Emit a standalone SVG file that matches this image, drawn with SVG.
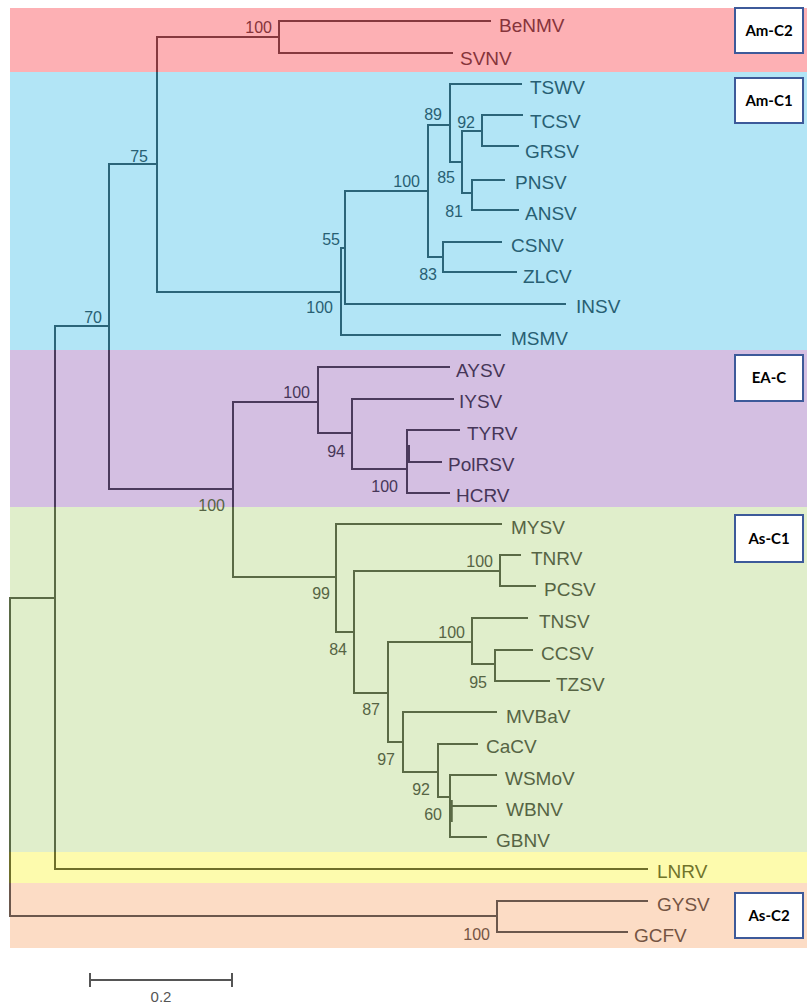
<svg xmlns="http://www.w3.org/2000/svg" xmlns:xlink="http://www.w3.org/1999/xlink" width="807" height="1004" viewBox="0 0 807 1004">
<style>
.leaf{font-family:"Liberation Sans",Arial,sans-serif;font-size:19px}
.bs{font-family:"Liberation Sans",Arial,sans-serif;font-size:16px;text-anchor:end}
.box rect{fill:#fff;stroke:#3d5a9a;stroke-width:2}
.box text{font-family:Lato,"Liberation Sans",sans-serif;font-size:15px;font-weight:bold;fill:#000;text-anchor:middle}
.red{fill:#86343b}.blue{fill:#285f73}.purple{fill:#463658}.green{fill:#566444}.yellow{fill:#70732b}.orange{fill:#745443}
</style>
<defs>
<clipPath id="cRed"><rect x="0" y="0" width="807" height="72"/></clipPath>
<clipPath id="cBlue"><rect x="0" y="72" width="807" height="278"/></clipPath>
<clipPath id="cPurple"><rect x="0" y="350" width="807" height="157"/></clipPath>
<clipPath id="cGreen"><rect x="0" y="507" width="807" height="345"/></clipPath>
<clipPath id="cYellow"><rect x="0" y="852" width="807" height="31"/></clipPath>
<clipPath id="cOrange"><rect x="0" y="883" width="807" height="65"/></clipPath>
<g id="tree">
<path d="M55 598 H10 V916 H497"/>
<path d="M109 326 H55 V869 H648"/>
<path d="M157 164 H109 V489 H233"/>
<path d="M279 37 H157 V292 H341"/>
<path d="M491 21 H279 V53 H453"/>
<path d="M345 248 H341 V335 H501"/>
<path d="M428 191 H345 V304 H566"/>
<path d="M450 125 H428 V257 H443"/>
<path d="M522 84 H450 V162 H462"/>
<path d="M482 131 H462 V193 H472"/>
<path d="M523 115 H482 V146 H519"/>
<path d="M505 180 H472 V210 H519"/>
<path d="M502 242 H443 V272 H517"/>
<path d="M318 402 H233 V577 H336"/>
<path d="M450 367 H318 V433 H352"/>
<path d="M454 399 H352 V469 H407"/>
<path d="M460 430 H407 V493 H450"/>
<path d="M407 446 H409 V462 H442"/>
<path d="M502 524 H336 V632 H354"/>
<path d="M500 571 H354 V693 H388"/>
<path d="M521 555 H500 V586 H536"/>
<path d="M472 642 H388 V742 H403"/>
<path d="M528 618 H472 V664 H495"/>
<path d="M533 650 H495 V681 H550"/>
<path d="M497 712 H403 V772 H438"/>
<path d="M478 744 H438 V797 H450"/>
<path d="M497 775 H450 V837 H487"/>
<path d="M451 806 H497"/>
<path d="M451 800 V822" stroke-width="3.5"/>
<path d="M648 901 H497 V932 H628"/>
</g>
</defs>
<rect width="807" height="1004" fill="#fff"/>
<g id="bands">
<rect x="10" y="8" width="797" height="64" fill="#fdb0b4"/>
<rect x="10" y="72" width="797" height="278" fill="#b2e5f6"/>
<rect x="10" y="350" width="797" height="157" fill="#d4bfe2"/>
<rect x="10" y="507" width="797" height="345" fill="#e0eecb"/>
<rect x="10" y="852" width="797" height="31" fill="#fdfbad"/>
<rect x="10" y="883" width="797" height="65" fill="#fcdcc5"/>
</g>
<g id="connectors" fill="none" stroke-width="2">
<use xlink:href="#tree" stroke="#86383e" clip-path="url(#cRed)"/>
<use xlink:href="#tree" stroke="#2b6579" clip-path="url(#cBlue)"/>
<use xlink:href="#tree" stroke="#4b3a5c" clip-path="url(#cPurple)"/>
<use xlink:href="#tree" stroke="#5a6a45" clip-path="url(#cGreen)"/>
<use xlink:href="#tree" stroke="#6f6f2a" clip-path="url(#cYellow)"/>
<use xlink:href="#tree" stroke="#6b574c" clip-path="url(#cOrange)"/>
</g>
<g id="leaves">
<g id="BeNMV"><text class="leaf red" x="499" y="32">BeNMV</text></g>
<g id="SVNV"><text class="leaf red" x="460" y="65">SVNV</text></g>
<g id="TSWV"><text class="leaf blue" x="530" y="94">TSWV</text></g>
<g id="TCSV"><text class="leaf blue" x="530" y="128">TCSV</text></g>
<g id="GRSV"><text class="leaf blue" x="525" y="158">GRSV</text></g>
<g id="PNSV"><text class="leaf blue" x="515" y="189">PNSV</text></g>
<g id="ANSV"><text class="leaf blue" x="525" y="220">ANSV</text></g>
<g id="CSNV"><text class="leaf blue" x="511" y="252">CSNV</text></g>
<g id="ZLCV"><text class="leaf blue" x="523" y="283">ZLCV</text></g>
<g id="INSV"><text class="leaf blue" x="576" y="313">INSV</text></g>
<g id="MSMV"><text class="leaf blue" x="511" y="345">MSMV</text></g>
<g id="AYSV"><text class="leaf purple" x="456" y="377">AYSV</text></g>
<g id="IYSV"><text class="leaf purple" x="459" y="408">IYSV</text></g>
<g id="TYRV"><text class="leaf purple" x="467" y="440">TYRV</text></g>
<g id="PolRSV"><text class="leaf purple" x="448" y="471">PolRSV</text></g>
<g id="HCRV"><text class="leaf purple" x="456" y="502">HCRV</text></g>
<g id="MYSV"><text class="leaf green" x="511" y="534">MYSV</text></g>
<g id="TNRV"><text class="leaf green" x="531" y="565">TNRV</text></g>
<g id="PCSV"><text class="leaf green" x="544" y="596">PCSV</text></g>
<g id="TNSV"><text class="leaf green" x="539" y="628">TNSV</text></g>
<g id="CCSV"><text class="leaf green" x="541" y="660">CCSV</text></g>
<g id="TZSV"><text class="leaf green" x="556" y="691">TZSV</text></g>
<g id="MVBaV"><text class="leaf green" x="506" y="723">MVBaV</text></g>
<g id="CaCV"><text class="leaf green" x="486" y="753">CaCV</text></g>
<g id="WSMoV"><text class="leaf green" x="505" y="785">WSMoV</text></g>
<g id="WBNV"><text class="leaf green" x="506" y="816">WBNV</text></g>
<g id="GBNV"><text class="leaf green" x="496" y="847">GBNV</text></g>
<g id="LNRV"><text class="leaf yellow" x="657" y="878">LNRV</text></g>
<g id="GYSV"><text class="leaf orange" x="657" y="911">GYSV</text></g>
<g id="GCFV"><text class="leaf orange" x="634" y="942">GCFV</text></g>
</g>
<g id="bootstrap">
<text class="bs red" x="272" y="33">100</text>
<text class="bs blue" x="148" y="162">75</text>
<text class="bs blue" x="102" y="323">70</text>
<text class="bs blue" x="442" y="120">89</text>
<text class="bs blue" x="475" y="128">92</text>
<text class="bs blue" x="420" y="187">100</text>
<text class="bs blue" x="455" y="183">85</text>
<text class="bs blue" x="463" y="217">81</text>
<text class="bs blue" x="437" y="280">83</text>
<text class="bs blue" x="340" y="245">55</text>
<text class="bs blue" x="333" y="313">100</text>
<text class="bs purple" x="310" y="398">100</text>
<text class="bs purple" x="345" y="457">94</text>
<text class="bs purple" x="398" y="492">100</text>
<text class="bs green" x="225" y="511">100</text>
<text class="bs green" x="330" y="599">99</text>
<text class="bs green" x="493" y="567">100</text>
<text class="bs green" x="347" y="655">84</text>
<text class="bs green" x="380" y="715">87</text>
<text class="bs green" x="465" y="638">100</text>
<text class="bs green" x="487" y="688">95</text>
<text class="bs green" x="395" y="765">97</text>
<text class="bs green" x="430" y="795">92</text>
<text class="bs green" x="442" y="820">60</text>
<text class="bs orange" x="490" y="940">100</text>
</g>
<g id="clade-labels">
<g id="lab-AmC2" class="box"><rect x="735" y="8" width="68" height="45"/><text x="769" y="36">Am-C2</text></g>
<g id="lab-AmC1" class="box"><rect x="735" y="78" width="68" height="45"/><text x="769" y="106">Am-C1</text></g>
<g id="lab-EAC" class="box"><rect x="735" y="355" width="68" height="46"/><text x="769" y="383">EA-C</text></g>
<g id="lab-AsC1" class="box"><rect x="735" y="515" width="68" height="47"/><text x="769" y="544">As-C1</text></g>
<g id="lab-AsC2" class="box"><rect x="735" y="893" width="68" height="45"/><text x="769" y="921">As-C2</text></g>
</g>
<g id="scale" stroke="#555" stroke-width="2" fill="none">
<path d="M90 980 H232 M90 973 V987 M232 973 V987"/>
<text x="161" y="1002" fill="#555" stroke="none" font-family="Liberation Sans, Arial, sans-serif" font-size="15" text-anchor="middle">0.2</text>
</g>
</svg>
